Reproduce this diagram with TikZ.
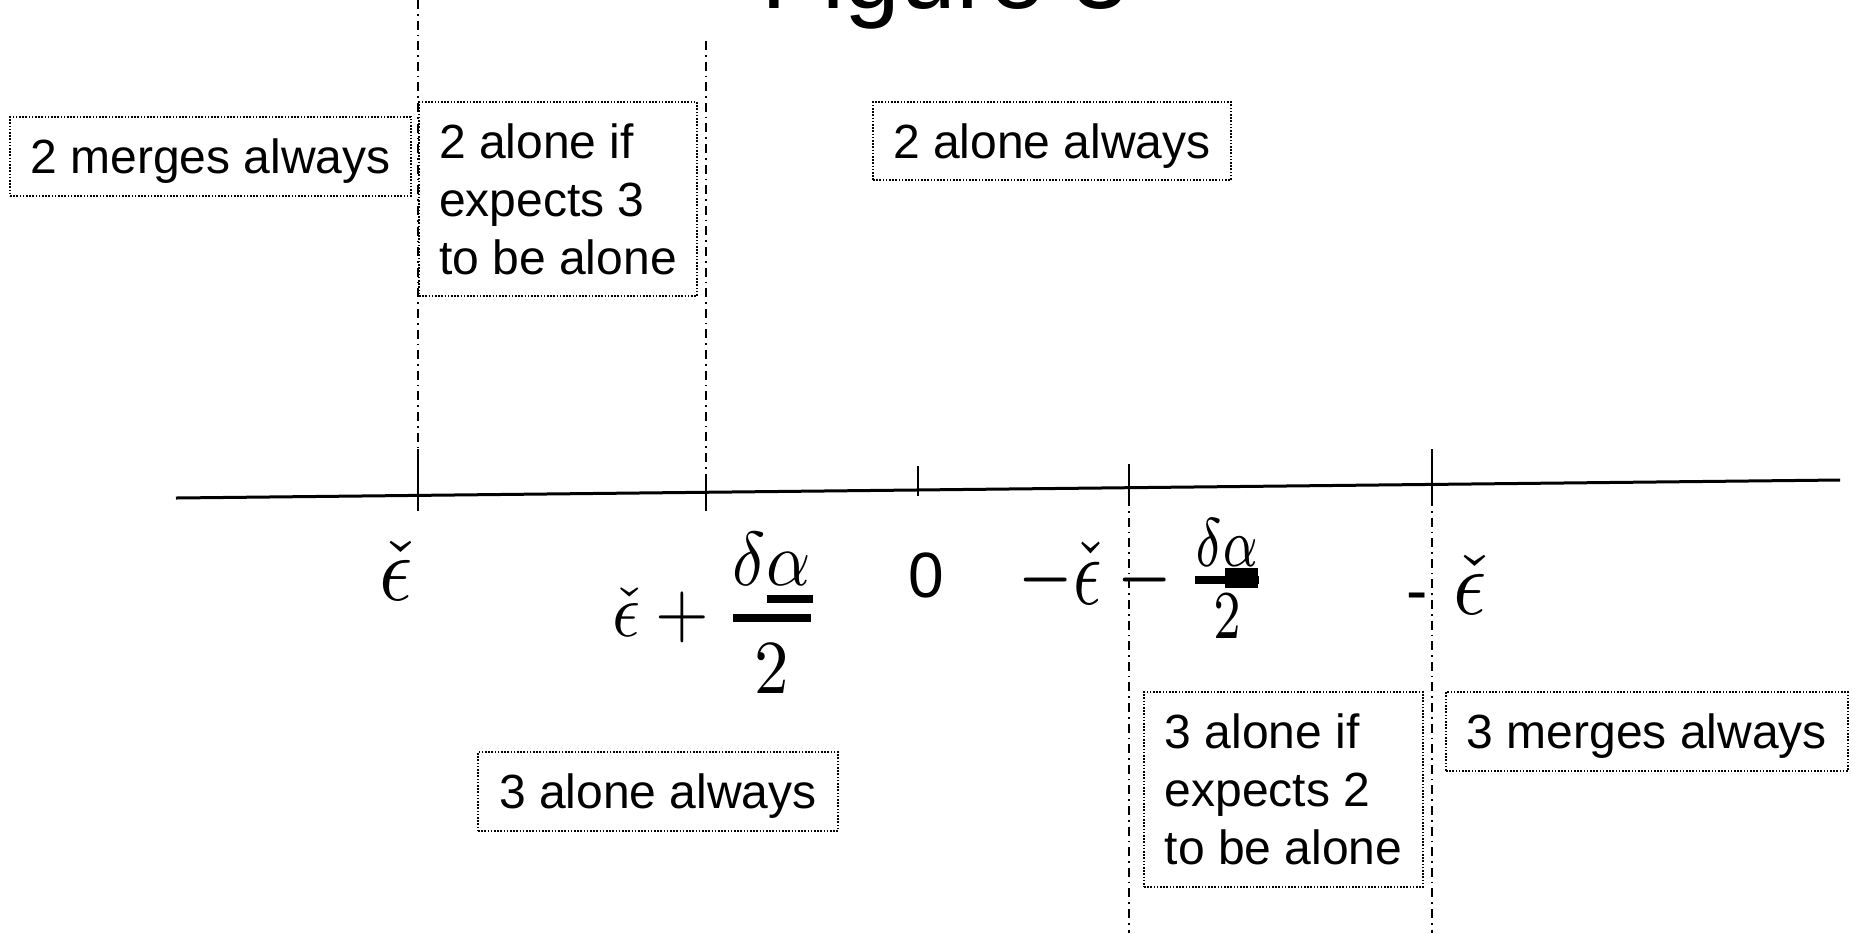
\documentclass[tikz,border=0pt]{standalone}
\usepackage{amsmath}
\usepackage{fontspec}
\setmainfont{Liberation Sans}
\usepackage{graphicx}
\tikzset{
  box/.style={draw, line width=0.8pt, dash pattern=on 0.8pt off 0.8pt,
    font=\fontsize{24}{29}\selectfont, inner xsep=10pt, inner ysep=0pt, align=left},
  single/.style={text height=17.2pt, text depth=0pt},
  dashdot/.style={line width=0.8pt, dash pattern=on 4.5pt off 2.5pt on 0.8pt off 2.5pt},
  tickline/.style={line width=1.2pt},
  axisline/.style={line width=1.5pt},
  lab/.style={inner sep=0pt},
}
\begin{document}
\begin{tikzpicture}[x=0.5pt,y=-0.5pt]
\useasboundingbox (0,0) rectangle (1852,933);
% title (clipped at top)
\node[lab, anchor=base, font=\fontsize{50}{60}\selectfont] (title) at (945,8) {Figure 3};
% axis
\coordinate (axL) at (176,498);
\coordinate (axR) at (1840,480);
\draw[axisline] (axL) -- (axR);
% ticks
\coordinate (t1a) at (418,449); \coordinate (t1b) at (418,511);
\coordinate (t2a) at (706,479); \coordinate (t2b) at (706,511);
\coordinate (t3a) at (918,466); \coordinate (t3b) at (918,496);
\coordinate (t4a) at (1129,464); \coordinate (t4b) at (1129,497);
\coordinate (t5a) at (1432,449); \coordinate (t5b) at (1432,497);
\foreach \t in {1,...,5} {\draw[tickline] (t\t a) -- (t\t b);}
% dash-dot separators
\coordinate (d1) at (418,0);
\coordinate (d2) at (706,41);
\coordinate (d4) at (1129,933);
\coordinate (d5) at (1432,933);
\draw[dashdot] (d1) -- (t1a);
\draw[dashdot] (d2) -- (t2a);
\draw[dashdot] (t4b) -- (d4);
\draw[dashdot] (t5b) -- (d5);
% boxes
\node[box, single, minimum width=200.5pt, minimum height=39.5pt] (m2) at (210.5,156.5) {2 merges always};
\node[box, minimum width=139pt, minimum height=97pt] (a2if) at (558,199) {2 alone if\\expects 3\\to be alone};
\node[box, single, minimum width=179pt, minimum height=39pt] (a2) at (1052,141) {2 alone always};
\node[box, single, minimum width=180pt, minimum height=39.5pt] (a3) at (658,791.5) {3 alone always};
\node[box, minimum width=139.5pt, minimum height=97.5pt] (a3if) at (1283.5,789.5) {3 alone if\\expects 2\\to be alone};
\node[box, single, minimum width=201pt, minimum height=39.5pt] (m3) at (1647,731.5) {3 merges always};
% axis labels
\node[lab] (L1) at (396,571) {\scalebox{4.1}[4.65]{$\check{\epsilon}$}};
\node[lab] (L2) at (715.5,613) {\scalebox{3.45}[3.82]{$\check{\epsilon}+\genfrac{}{}{1pt}{0}{\delta\alpha}{2}$}};
\fill (767,595) rectangle (813,603);
\node[lab, anchor=base, font=\fontsize{32}{38}\selectfont] (L3) at (926,597) {0};
\node[lab] (L4) at (1143,578.5) {\scalebox{3.5}[4.9]{$-\check{\epsilon}-\genfrac{}{}{0.8pt}{1}{\delta\alpha}{2}$}};
\fill (1225,568) rectangle (1258,588);
\node[lab, anchor=base, font=\fontsize{32}{38}\selectfont] (L5a) at (1417,612) {-};
\node[lab] (L5) at (1470,585) {\scalebox{4.1}[4.65]{$\check{\epsilon}$}};
\end{tikzpicture}
\end{document}
